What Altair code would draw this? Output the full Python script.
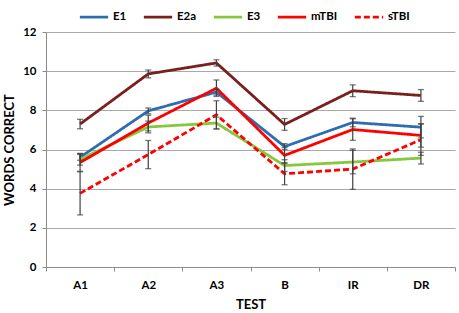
import altair as alt
import pandas as pd

tests = ["A1", "A2", "A3", "B", "IR", "DR"]
series = ["E1", "E2a", "E3", "mTBI", "sTBI"]

e1 = [5.6, 7.97, 8.93, 6.15, 7.38, 7.14]
e2a = [7.3, 9.86, 10.42, 7.28, 9.0, 8.76]
e3 = [5.5, 7.15, 7.35, 5.18, 5.36, 5.56]
mtbi = [5.34, 7.35, 9.13, 5.7, 7.02, 6.72]
stbi = [3.76, 5.74, 7.77, 4.76, 5.0, 6.5]

e1_err = [0.15, 0.15, 0.15, 0.15, 0.22, 0.55]
e2a_err = [0.24, 0.2, 0.16, 0.3, 0.3, 0.3]
e3_err = [0.3, 0.3, 0.3, 0.3, 0.6, 0.3]
mtbi_err = [0.45, 0.4, 0.42, 0.4, 0.55, 0.6]
stbi_err = [1.1, 0.72, 0.72, 0.56, 1.03, 0.8]

colors = ["#2f6db3", "#7a1e1e", "#86c83c", "#ff0000", "#ff0000"]
dashes = [[1, 0], [1, 0], [1, 0], [1, 0], [6, 3]]

vals = [e1, e2a, e3, mtbi, stbi]
errs = [e1_err, e2a_err, e3_err, mtbi_err, stbi_err]
rows = []
for s, v, e in zip(series, vals, errs):
    for t, y, d in zip(tests, v, e):
        rows.append({"test": t, "series": s, "value": y, "lo": y - d, "hi": y + d})
df = pd.DataFrame(rows)

FONT = "Lato"

x_scale = alt.Scale(type="band", paddingInner=0, paddingOuter=0)
x_axis = alt.Axis(
    title="TEST",
    tickBand="extent",
    labelAngle=0,
    grid=False,
    domainColor="#8c8c8c",
    tickColor="#8c8c8c",
    tickSize=4,
    labelPadding=8,
    titlePadding=8,
)
y_scale = alt.Scale(domain=[0, 12], nice=False)
y_axis = alt.Axis(
    title="WORDS CORRECT",
    values=[0, 2, 4, 6, 8, 10, 12],
    labelOverlap=False,
    grid=True,
    gridColor="#a8a8a8",
    domainColor="#8c8c8c",
    tickColor="#8c8c8c",
    tickSize=4,
    labelPadding=6,
    titlePadding=6,
)


def xe():
    return alt.X("test:N", sort=tests, scale=x_scale, bandPosition=0.5, axis=x_axis)


def ye(field):
    return alt.Y(field, scale=y_scale, axis=y_axis)


color_enc = alt.Color(
    "series:N",
    sort=series,
    scale=alt.Scale(domain=series, range=colors),
    legend=alt.Legend(title=None),
)
dash_enc = alt.StrokeDash(
    "series:N",
    sort=series,
    scale=alt.Scale(domain=series, range=dashes),
    legend=alt.Legend(title=None),
)

lines = alt.Chart(df).mark_line(strokeWidth=2.8).encode(
    x=xe(),
    y=ye("value:Q"),
    color=color_enc,
    strokeDash=dash_enc,
    detail="series:N",
)

bars = alt.Chart(df).mark_rule(color="#404040", strokeWidth=1.2).encode(
    x=xe(),
    y=ye("lo:Q"),
    y2="hi:Q",
)
caps_lo = alt.Chart(df).mark_tick(color="#404040", thickness=1.3, size=6).encode(
    x=alt.X("test:N", sort=tests, scale=x_scale, axis=x_axis),
    y=ye("lo:Q"),
)
caps_hi = alt.Chart(df).mark_tick(color="#404040", thickness=1.3, size=6).encode(
    x=alt.X("test:N", sort=tests, scale=x_scale, axis=x_axis),
    y=ye("hi:Q"),
)

chart = (
    alt.layer(lines, bars, caps_lo, caps_hi)
    .properties(
        width=409,
        height=235,
        autosize=alt.AutoSizeParams(type="none"),
        padding={"left": 46, "top": 32, "right": 4, "bottom": 46},
        background="white",
    )
    .configure_view(stroke=None)
    .configure_axis(
        labelFont=FONT,
        labelFontWeight="bold",
        labelFontSize=11.5,
        labelColor="#000000",
        titleFont=FONT,
        titleFontWeight="bold",
        titleFontSize=13,
        titleColor="#000000",
    )
    .configure_legend(
        orient="none",
        legendX=32,
        legendY=-31,
        direction="horizontal",
        columns=5,
        symbolType="stroke",
        symbolSize=800,
        symbolStrokeWidth=2.8,
        labelFont=FONT,
        labelFontWeight="bold",
        labelFontSize=11.5,
        labelColor="#000000",
        labelOffset=3,
        columnPadding=11,
    )
)

chart.save("out.html", embed_options={"renderer": "svg", "actions": False})
